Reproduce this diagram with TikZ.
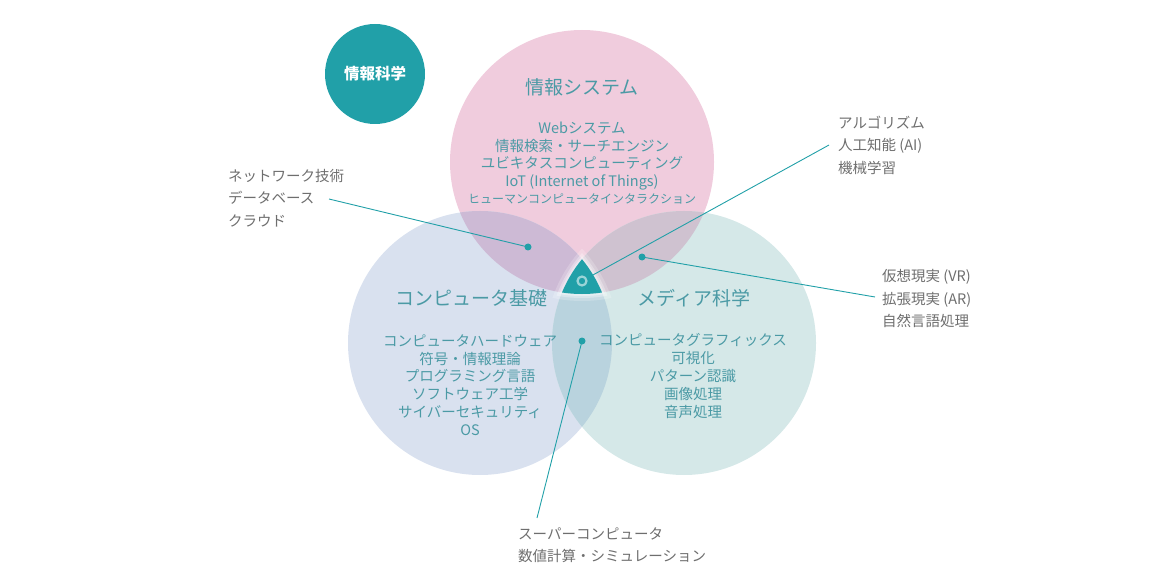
\documentclass[tikz,border=0pt]{standalone}
\usepackage{fontspec}
\newfontfamily\jp{Noto Sans CJK JP}
\definecolor{pinkc}{HTML}{F0CCDD}
\definecolor{bluec}{HTML}{D9E1EF}
\definecolor{greenc}{HTML}{D5E8E8}
\definecolor{pbc}{HTML}{CDBAD5}
\definecolor{pgc}{HTML}{CFC2D0}
\definecolor{bgc}{HTML}{B9D3DE}
\definecolor{tealc}{HTML}{21A0A8}
\definecolor{textc}{HTML}{4B9AA5}
\definecolor{greyc}{HTML}{6E6E6E}
\tikzset{
  circtitle/.style = {text=textc, inner sep=0pt, font=\jp\fontsize{19}{22}\selectfont},
  body/.style = {text=textc, inner sep=0pt, align=center, font=\jp\fontsize{14.5}{17.8}\selectfont},
  sidetext/.style = {text=greyc, inner sep=0pt, align=left, font=\jp\fontsize{14.5}{22.5}\selectfont},
  dot/.style = {circle, fill=tealc, inner sep=0pt, minimum size=7pt},
  link/.style = {draw=tealc, line width=0.9pt}
}

\begin{document}
\begin{tikzpicture}[x=1pt,y=-1pt]
  \useasboundingbox (0,0) rectangle (1170,580);
  \coordinate (cp) at (582,162);
  \coordinate (cb) at (480,343);
  \coordinate (cg) at (684,343);
  % circles
  \fill[pinkc]  (cp) circle[radius=132pt];
  \fill[bluec]  (cb) circle[radius=132pt];
  \fill[greenc] (cg) circle[radius=132pt];
  \begin{scope}
    \clip (cp) circle[radius=132pt];
    \fill[pbc] (cb) circle[radius=132pt];
    \fill[pgc] (cg) circle[radius=132pt];
  \end{scope}
  \begin{scope}
    \clip (cb) circle[radius=132pt];
    \fill[bgc] (cg) circle[radius=132pt];
  \end{scope}
  % centre with glow
  \foreach \r/\op in {139/0.2,136/0.3,134/0.35}{
    \begin{scope}
      \clip (cp) circle[radius=\r pt];
      \clip (cb) circle[radius=\r pt];
      \fill[white,opacity=\op] (cg) circle[radius=\r pt];
    \end{scope}
  }
  \begin{scope}
    \clip (cp) circle[radius=132pt];
    \clip (cb) circle[radius=132pt];
    \fill[tealc] (cg) circle[radius=132pt];
  \end{scope}
  \node[circle, fill=tealc, draw=white, draw opacity=0.55, line width=2.2pt,
        inner sep=0pt, minimum size=9pt] (core) at (582,281) {};

  \node[circle, fill=tealc, inner sep=0pt, minimum size=100pt, text=white,
        font=\jp\bfseries\fontsize{15.5}{18}\selectfont] (field) at (375,74) {情報科学};

  \node[circtitle] (sys)  at (582,87)  {情報システム};
  \node[circtitle] (base) at (471,298) {コンピュータ基礎};
  \node[circtitle] (med)  at (694,298) {メディア科学};

  \node[body] (sysbody) at (582,156) {Webシステム\\情報検索・サーチエンジン\\ユビキタスコンピューティング\\IoT (Internet of Things)};
  \node[body, font=\jp\fontsize{12}{14}\selectfont] (hci) at (582,199) {ヒューマンコンピュータインタラクション};
  \node[body] (basebody) at (470,385) {コンピュータハードウェア\\符号・情報理論\\プログラミング言語\\ソフトウェア工学\\サイバーセキュリティ\\OS};
  \node[body] (medbody) at (693,376) {コンピュータグラフィックス\\可視化\\パターン認識\\画像処理\\音声処理};

  % side labels
  \node[sidetext, anchor=west] (netlab) at (228,198) {ネットワーク技術\\データベース\\クラウド};
  \node[sidetext, anchor=west] (ailab)  at (838,145) {アルゴリズム\\人工知能 (AI)\\機械学習};
  \node[sidetext, anchor=west] (vrlab)  at (882,299) {仮想現実 (VR)\\拡張現実 (AR)\\自然言語処理};
  \node[sidetext, anchor=west] (hpclab) at (518,545) {スーパーコンピュータ\\数値計算・シミュレーション};

  \node[dot] (dsys) at (528,247) {};
  \node[dot] (dmed) at (642,257) {};
  \node[dot] (dbase) at (582,341) {};
  \coordinate (enet) at (329,199);
  \coordinate (eai)  at (829,145);
  \coordinate (evr)  at (875,297);
  \coordinate (ehpc) at (537,518);

  \draw[link] (dsys.center) -- (enet);
  \draw[link] (core) -- (eai);
  \draw[link] (dmed.center) -- (evr);
  \draw[link] (dbase.center) -- (ehpc);
\end{tikzpicture}
\end{document}
